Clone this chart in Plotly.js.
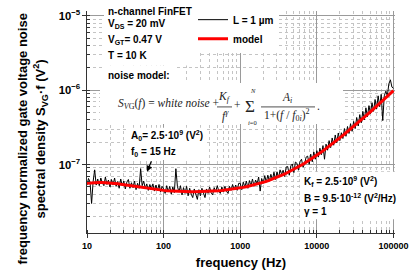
<!DOCTYPE html>
<html><head><meta charset="utf-8">
<script src="https://cdn.plot.ly/plotly-3.0.1.min.js"></script>
<style>html,body{margin:0;padding:0;background:#fff}#chart{width:410px;height:278px}</style>
</head><body><div id="chart"></div>
<script>
// values in units of 1e-8 V^2
const UNIT = 1e-8;
const freq = [
10,10.47,10.96,11.48,12.02,12.59,13.18,13.8,14.45,15.14,15.85,16.6,17.38,18.2,19.05,19.95,20.89,21.88,22.91,23.99,25.12,26.3,27.54,28.84,30.2,31.62,33.11,34.67,36.31,38.02,39.81,41.69,43.65,45.71,47.86,50.12,52.48,54.95,57.54,60.26,63.1,66.07,69.18,72.44,75.86,79.43,83.18,87.1,91.2,95.5,
100,104.7,109.6,114.8,120.2,125.9,131.8,138,144.5,151.4,158.5,166,173.8,182,190.5,199.5,208.9,218.8,229.1,239.9,251.2,263,275.4,288.4,302,316.2,331.1,346.7,363.1,380.2,398.1,416.9,436.5,457.1,478.6,501.2,524.8,549.5,575.4,602.6,631,660.7,691.8,724.4,758.6,794.3,831.8,871,912,955,
1000,1047,1096,1148,1202,1259,1318,1380,1445,1514,1585,1660,1738,1820,1905,1995,2089,2188,2291,2399,2512,2630,2754,2884,3020,3162,3311,3467,3631,3802,3981,4169,4365,4571,4786,5012,5248,5495,5754,6026,6310,6607,6918,7244,7586,7943,8318,8710,9120,9550,
10000,10470,10960,11480,12020,12590,13180,13800,14450,15140,15850,16600,17380,18200,19050,19950,20890,21880,22910,23990,25120,26300,27540,28840,30200,31620,33110,34670,36310,38020,39810,41690,43650,45710,47860,50120,52480,54950,57540,60260,63100,66070,69180,72440,75860,79430,83180,87100,91200,95500,100000];
const noiseL1um = [
5.3,6.5,5.8,3.0,5.9,8.5,5.3,6.4,5.2,6.6,5.7,5.2,6.8,5.4,6.2,5.0,6.3,5.3,6.6,5.1,5.9,4.8,6.4,5.2,6.0,4.7,5.8,6.3,4.8,5.7,4.9,6.0,4.6,5.6,4.8,8.8,5.2,6.0,4.8,5.5,4.5,5.4,4.7,5.5,4.4,5.3,4.5,5.4,4.3,5.1,
4.7,4.1,5.2,4.3,5.1,4.0,5.0,4.2,8.8,5.1,4.3,5.2,3.9,4.9,4.1,5.1,3.8,4.8,4.0,3.6,4.7,3.9,3.4,4.6,3.8,4.8,4.0,3.6,4.7,4.1,5.0,4.2,3.9,4.9,4.3,5.2,4.4,4.1,5.0,4.3,5.1,4.4,4.1,5.1,4.5,5.4,4.6,5.3,4.5,5.6,
5.6,4.6,5.8,5.0,6.0,4.8,6.1,5.2,6.4,5.1,6.2,5.5,6.8,4.4,6.5,5.6,7.1,5.8,7.2,6.0,7.4,6.2,7.9,6.3,8.0,6.6,8.5,7.4,8.4,6.9,9.3,9.4,7.2,9.6,10.2,7.8,10.8,10.4,8.4,10.9,11.8,9.2,10.2,12.6,13.0,10.1,13.8,10.9,14.8,11.8,
15.4,12.6,16.6,13.6,18.0,11.8,18.8,15.6,21.0,16.9,22.8,18.2,25.0,19.6,26.6,21.0,26.8,22.4,30.5,24.0,32.5,26.2,35.5,28.0,38.0,30.5,43.0,33.0,47.0,36.5,52.0,40.0,58.0,44.0,62.0,48.0,68.0,52.0,75.0,56.0,84.0,60.0,88.0,39.0,84.0,97.0,84.0,122.0,138.0,110.0,106.0];
const modelValues = [
5.59,5.65,5.69,5.72,5.74,5.74,5.72,5.69,5.65,5.59,5.53,5.45,5.37,5.29,5.21,5.13,5.05,4.97,4.89,4.82,4.75,4.69,4.64,4.58,4.54,
4.50,4.46,4.43,4.40,4.37,4.35,4.34,4.32,4.32,4.31,4.31,4.32,4.32,4.34,4.35,4.37,4.39,4.42,4.46,4.49,4.54,4.59,4.65,4.71,4.78,
4.86,4.94,5.04,5.15,5.26,5.39,5.53,5.69,5.86,6.05,6.26,6.49,6.74,7.01,7.31,7.65,8.01,8.41,8.85,9.33,9.85,10.43,11.06,11.76,12.52,
13.36,14.27,15.28,16.38,17.59,18.92,20.37,21.96,23.71,25.62,27.72,30.02,32.55,35.31,38.35,41.68,45.33,49.33,53.72,58.52,63.81,69.58,75.93,82.88,90.50,
98.86];
const modelFreq = freq.filter((f, i) => i % 2 === 0);
const seriesNames = ['L = 1 µm', 'model'];

// ---------- layout geometry ----------
const W = 410, H = 278, M = {l: 87, r: 15, t: 5, b: 45};
const XR = [1, 5.02], YR = [-7.92, -4.935];
const PW = W - M.l - M.r, PH = H - M.t - M.b;
const px = x => (x - M.l) / PW;
const py = y => (H - M.b - y) / PH;
const dx = x => XR[0] + (x - M.l) / PW * (XR[1] - XR[0]);
const dy = y => YR[1] - (y - M.t) / PH * (YR[1] - YR[0]);

const SANS = 'Liberation Sans, Arial, Helvetica, sans-serif';
const SERIF = 'Liberation Serif, Times New Roman, Times, serif';

function note(text, x, y, opt) {
  return Object.assign({xref: 'paper', yref: 'paper', x: px(x), y: py(y), text: text,
    showarrow: false, xanchor: 'left', yanchor: 'middle', borderpad: 0,
    font: {family: SANS, size: 10, weight: 'bold', color: '#000'}}, opt || {});
}
function math(text, x, y, size, opt) {
  return Object.assign({xref: 'paper', yref: 'paper', x: px(x), y: py(y), text: text,
    showarrow: false, xanchor: 'center', yanchor: 'middle', borderpad: 0,
    font: {family: SERIF, size: size, color: '#222'}}, opt || {});
}
function box(x0, y0, x1, y1) {
  return {type: 'rect', xref: 'paper', yref: 'paper', x0: px(x0), x1: px(x1), y0: py(y1), y1: py(y0),
    fillcolor: '#fff', line: {width: 0}, layer: 'above'};
}
function bar(x0, x1, y) {
  return {type: 'line', xref: 'paper', yref: 'paper', x0: px(x0), x1: px(x1), y0: py(y), y1: py(y),
    line: {color: '#222', width: 0.8}, layer: 'above'};
}

const traces = [
  {x: freq, y: noiseL1um.map(v => v * UNIT), type: 'scatter', mode: 'lines', name: seriesNames[0],
   line: {color: '#000', width: 1}},
  {x: modelFreq, y: modelValues.map(v => v * UNIT), type: 'scatter', mode: 'lines', name: seriesNames[1],
   line: {color: '#ff0000', width: 3}}
];

const annotations = [
  note('n-channel FinFET', 107, 5),
  note('V<sub>DS</sub> = 20 mV', 107, 18),
  note('V<sub>GT</sub>= 0.47 V', 107, 35),
  note('T = 10 K', 107, 51),
  note('noise model:', 107, 71),
  note('A<sub>0</sub>= 2.5·10<sup>9</sup> (V<sup>2</sup>)', 130, 133),
  note('f<sub>0</sub> = 15 Hz', 130, 150),
  note('K<sub>f</sub> = 2.5·10<sup>9</sup> (V<sup>2</sup>)', 303, 180),
  note('B = 9.5·10<sup>-12</sup> (V<sup>2</sup>/Hz)', 303, 197),
  note('γ = 1', 303, 211),
  // arrow to data
  {xref: 'x', yref: 'y', x: dx(147), y: dy(170), ax: 5, ay: -12, text: '', showarrow: true,
   arrowhead: 2, arrowsize: 1, arrowwidth: 1.2, arrowcolor: '#000'},
  // formula
  math('<i>S</i><sub><i>V</i>G</sub>(<i>f</i>) = <i>white noise</i> +', 117, 101, 11.5, {xanchor: 'left'}),
  math('<i>K</i><sub><i>f</i></sub>', 224, 93, 11.5),
  math('<i>f</i><sup><i>γ</i></sup>', 225, 112, 11.5),
  math('+', 237, 102, 11.5),
  math('Σ', 250, 103, 17),
  math('<i>N</i>', 253, 87, 6.5),
  math('<i>i</i>=0', 252, 119, 6.5),
  math('<i>A</i><sub><i>i</i></sub>', 287, 94, 11.5),
  math('1+(<i>f</i> / <i>f</i><sub>0<i>i</i></sub>)<sup>2</sup>', 287, 112, 11.5),
  math('.', 318, 103, 11.5),
  // y axis title (two lines)
  {xref: 'paper', yref: 'paper', x: px(23), y: py(137), text: 'frequency normalized gate voltage noise',
   showarrow: false, textangle: -90, xanchor: 'center', yanchor: 'middle',
   font: {family: SANS, size: 13, weight: 'bold', color: '#000'}},
  {xref: 'paper', yref: 'paper', x: px(40), y: py(137), text: 'spectral density S<sub>VG</sub>·f (V<sup>2</sup>)',
   showarrow: false, textangle: -90, xanchor: 'center', yanchor: 'middle',
   font: {family: SANS, size: 13, weight: 'bold', color: '#000'}}
];

const shapes = [
  box(104, 5, 200, 61),
  box(104, 61, 176, 80),
  box(100, 79, 343, 121),
  box(127, 125, 206, 158),
  box(301, 170, 395, 219),
  bar(217, 232, 103.5),
  bar(261, 315, 103.5)
];

const axisCommon = {
  type: 'log', autorange: false, dtick: 1,
  showline: true, linecolor: '#333', linewidth: 1, mirror: false,
  ticks: 'outside', ticklen: 4, tickcolor: '#333', tickwidth: 1,
  showgrid: true, gridcolor: '#9a9a9a', gridwidth: 1, zeroline: false,
  minor: {dtick: 'D1', ticks: 'inside', ticklen: 3, tickcolor: '#333',
          showgrid: true, gridcolor: '#c4c4c4', griddash: 'dot', gridwidth: 1},
  tickfont: {family: SANS, size: 9, weight: 'bold', color: '#000'}
};

const layout = {
  width: W, height: H, margin: M,
  paper_bgcolor: '#fff', plot_bgcolor: '#fff',
  separators: '.',
  showlegend: true,
  legend: {x: px(193), y: py(-1), xanchor: 'left', yanchor: 'top', bgcolor: '#fff', borderwidth: 0,
           font: {family: SANS, size: 10, weight: 'bold', color: '#000'}, itemwidth: 30, tracegroupgap: 0},
  xaxis: Object.assign({}, axisCommon, {range: XR, exponentformat: 'none',
    title: {text: 'frequency (Hz)', font: {family: SANS, size: 13, weight: 'bold', color: '#000'}, standoff: 8}}),
  yaxis: Object.assign({}, axisCommon, {range: YR, exponentformat: 'power'}),
  annotations: annotations,
  shapes: shapes
};

Plotly.newPlot('chart', traces, layout, {staticPlot: true, displayModeBar: false});
</script>
</body></html>
